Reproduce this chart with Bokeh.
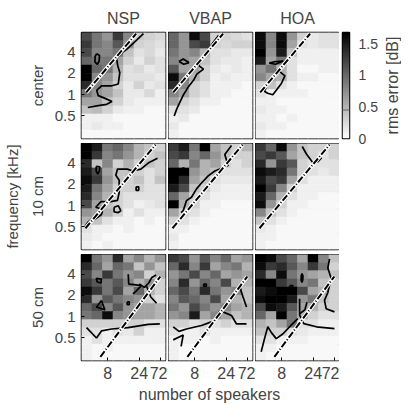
import numpy as np
from bokeh.plotting import figure
from bokeh.layouts import gridplot, column, row
from bokeh.models import Range1d, FixedTicker, LinearAxis, LinearColorMapper, Span, ColumnDataSource
from bokeh.palettes import Greys256
from bokeh.embed import file_html
from bokeh.resources import INLINE

FONT = "Liberation Sans"

# ---------------- data ----------------
methods = ["NSP", "VBAP", "HOA"]
positions = ["center", "10 cm", "50 cm"]
x_label = "number of speakers"
y_label = "frequency [kHz]"
cbar_label = "rms error [dB]"
# frequency band edges in kHz (bottom -> top)
freq_edges = [0.24, 0.313, 0.408, 0.533, 0.695, 0.907, 1.183, 1.543,
              2.013, 2.626, 3.426, 4.469, 5.829, 7.6]
n_cols = 8
x_ticks = [2.5, 5.5, 7.5]
x_tick_labels = ["8", "24", "72"]
y_ticks = [0.5, 1, 2, 4]
y_tick_labels = ["0.5", "1", "2", "4"]
cbar_ticks = [0, 0.5, 1, 1.5]
cbar_tick_labels = ["0", "0.5", "1", "1.5"]
err_max = 1.68
contour_level = 0.45

# rms error [dB]; rows from highest band (top) to lowest band (bottom)
err_center_nsp = [
    [1.2, 0.9, 0.7, 1.3, 0.8, 0.35, 0.3, 0.25],
    [1.3, 0.9, 0.8, 1.1, 0.7, 0.3, 0.25, 0.2],
    [1.2, 0.8, 0.8, 0.9, 0.4, 0.2, 0.25, 0.15],
    [1.0, 0.9, 0.9, 0.6, 0.3, 0.15, 0.3, 0.2],
    [1.7, 1.0, 0.9, 0.5, 0.2, 0.25, 0.15, 0.2],
    [1.7, 0.8, 0.7, 0.4, 0.2, 0.2, 0.2, 0.15],
    [1.4, 0.8, 0.6, 0.3, 0.15, 0.3, 0.15, 0.2],
    [0.9, 0.7, 0.6, 0.4, 0.15, 0.15, 0.25, 0.1],
    [0.6, 0.6, 0.4, 0.3, 0.15, 0.1, 0.1, 0.1],
    [0.4, 0.45, 0.3, 0.15, 0.1, 0.1, 0.05, 0.05],
    [0.1, 0.1, 0.1, 0.05, 0.05, 0.05, 0.05, 0.05],
    [0.1, 0.15, 0.1, 0.1, 0.05, 0.05, 0.05, 0.05],
    [0.05, 0.05, 0.05, 0.05, 0.05, 0.05, 0.05, 0.05],
]
err_center_vbap = [
    [1.0, 0.7, 1.6, 1.2, 0.3, 0.3, 0.25, 0.2],
    [1.0, 0.7, 1.2, 1.3, 0.3, 0.25, 0.3, 0.3],
    [0.9, 0.7, 0.8, 0.5, 0.2, 0.2, 0.15, 0.15],
    [0.8, 0.7, 0.6, 0.4, 0.2, 0.15, 0.15, 0.1],
    [1.1, 0.6, 0.6, 0.3, 0.15, 0.1, 0.15, 0.1],
    [1.6, 0.9, 0.5, 0.3, 0.1, 0.15, 0.1, 0.1],
    [1.4, 0.8, 0.3, 0.2, 0.1, 0.1, 0.1, 0.05],
    [0.8, 0.6, 0.3, 0.2, 0.1, 0.1, 0.05, 0.05],
    [0.6, 0.3, 0.2, 0.1, 0.1, 0.05, 0.05, 0.05],
    [0.2, 0.2, 0.15, 0.05, 0.05, 0.05, 0.05, 0.05],
    [0.1, 0.15, 0.05, 0.05, 0.05, 0.05, 0.05, 0.05],
    [0.15, 0.05, 0.05, 0.05, 0.05, 0.05, 0.05, 0.05],
    [0.1, 0.05, 0.05, 0.05, 0.05, 0.05, 0.05, 0.05],
]
err_center_hoa = [
    [1.6, 0.8, 1.6, 0.7, 0.3, 0.15, 0.2, 0.2],
    [1.6, 0.8, 1.6, 0.6, 0.2, 0.15, 0.2, 0.2],
    [1.7, 0.7, 1.5, 0.4, 0.1, 0.1, 0.1, 0.1],
    [1.5, 0.6, 0.9, 0.2, 0.1, 0.1, 0.1, 0.1],
    [0.7, 0.9, 0.5, 0.2, 0.05, 0.05, 0.1, 0.1],
    [0.8, 0.6, 0.5, 0.2, 0.1, 0.1, 0.05, 0.05],
    [0.3, 0.4, 0.2, 0.1, 0.05, 0.05, 0.05, 0.05],
    [0.2, 0.1, 0.1, 0.1, 0.1, 0.05, 0.05, 0.05],
    [0.1, 0.1, 0.05, 0.05, 0.05, 0.05, 0.05, 0.05],
    [0.15, 0.1, 0.1, 0.05, 0.05, 0.05, 0.05, 0.05],
    [0.1, 0.1, 0.05, 0.1, 0.05, 0.05, 0.05, 0.05],
    [0.15, 0.1, 0.1, 0.05, 0.05, 0.05, 0.05, 0.05],
    [0.1, 0.05, 0.05, 0.05, 0.05, 0.05, 0.05, 0.05],
]
err_10cm_nsp = [
    [1.7, 1.5, 0.9, 1.0, 0.8, 0.5, 0.4, 0.3],
    [1.7, 1.3, 0.8, 0.9, 0.7, 0.5, 0.3, 0.4],
    [1.4, 0.4, 0.8, 0.3, 0.5, 0.3, 0.4, 0.3],
    [1.5, 1.2, 0.6, 0.4, 0.4, 0.3, 0.2, 0.3],
    [1.6, 1.3, 0.7, 0.4, 0.3, 0.4, 0.2, 0.4],
    [1.5, 0.9, 0.6, 0.3, 0.3, 0.3, 0.2, 0.2],
    [1.4, 0.8, 0.5, 0.3, 0.2, 0.2, 0.2, 0.2],
    [1.2, 0.6, 0.4, 0.3, 0.2, 0.1, 0.15, 0.2],
    [0.7, 0.6, 0.5, 0.3, 0.1, 0.2, 0.1, 0.1],
    [0.5, 0.4, 0.2, 0.1, 0.1, 0.05, 0.1, 0.05],
    [0.2, 0.1, 0.1, 0.05, 0.1, 0.05, 0.05, 0.05],
    [0.15, 0.1, 0.05, 0.05, 0.05, 0.05, 0.05, 0.05],
    [0.1, 0.05, 0.1, 0.05, 0.05, 0.05, 0.05, 0.05],
]
err_10cm_vbap = [
    [1.3, 1.5, 0.9, 1.7, 0.6, 0.4, 0.3, 0.5],
    [1.2, 1.3, 0.8, 1.0, 0.7, 0.4, 0.3, 0.3],
    [1.0, 0.5, 0.9, 0.5, 0.6, 0.3, 0.2, 0.3],
    [1.7, 1.7, 0.7, 0.5, 0.4, 0.2, 0.2, 0.2],
    [1.7, 1.4, 0.6, 0.4, 0.2, 0.15, 0.15, 0.15],
    [1.5, 1.2, 0.4, 0.3, 0.15, 0.1, 0.1, 0.1],
    [1.0, 0.6, 0.3, 0.2, 0.1, 0.1, 0.1, 0.1],
    [1.7, 0.5, 0.3, 0.1, 0.1, 0.05, 0.05, 0.05],
    [0.6, 0.3, 0.2, 0.1, 0.05, 0.05, 0.05, 0.05],
    [0.3, 0.2, 0.1, 0.05, 0.05, 0.05, 0.05, 0.05],
    [0.1, 0.1, 0.05, 0.05, 0.05, 0.05, 0.05, 0.05],
    [0.15, 0.05, 0.05, 0.05, 0.05, 0.05, 0.05, 0.05],
    [0.1, 0.05, 0.05, 0.05, 0.05, 0.05, 0.05, 0.05],
]
err_10cm_hoa = [
    [1.3, 1.0, 1.6, 0.7, 0.4, 0.3, 0.3, 0.3],
    [1.2, 1.3, 1.1, 0.6, 0.4, 0.3, 0.2, 0.3],
    [1.4, 0.7, 1.3, 1.1, 0.3, 0.2, 0.2, 0.2],
    [1.6, 1.5, 1.4, 0.9, 0.3, 0.2, 0.15, 0.2],
    [1.5, 1.2, 1.3, 0.6, 0.2, 0.1, 0.1, 0.1],
    [1.7, 1.3, 0.8, 0.3, 0.1, 0.1, 0.1, 0.1],
    [1.5, 1.0, 0.5, 0.2, 0.1, 0.1, 0.05, 0.05],
    [1.6, 0.7, 0.3, 0.1, 0.1, 0.05, 0.05, 0.05],
    [0.8, 0.4, 0.2, 0.1, 0.05, 0.05, 0.05, 0.05],
    [0.4, 0.2, 0.1, 0.05, 0.05, 0.05, 0.05, 0.05],
    [0.15, 0.1, 0.05, 0.05, 0.05, 0.05, 0.05, 0.05],
    [0.1, 0.1, 0.05, 0.05, 0.05, 0.05, 0.05, 0.05],
    [0.1, 0.05, 0.05, 0.05, 0.05, 0.05, 0.05, 0.05],
]
err_50cm_nsp = [
    [1.7, 0.9, 0.7, 1.4, 0.6, 0.8, 0.5, 0.7],
    [1.4, 1.0, 0.6, 1.0, 0.9, 0.4, 0.7, 0.4],
    [1.2, 0.8, 1.3, 0.9, 0.7, 0.8, 0.3, 0.5],
    [1.3, 1.1, 0.9, 1.1, 0.8, 0.5, 0.7, 0.3],
    [1.6, 1.3, 0.9, 1.2, 0.6, 1.0, 0.5, 0.3],
    [1.4, 0.7, 1.1, 0.9, 0.8, 0.7, 0.3, 0.2],
    [1.0, 1.2, 0.8, 1.1, 0.7, 0.6, 0.6, 0.5],
    [0.9, 1.0, 1.6, 0.8, 0.7, 0.6, 0.6, 0.5],
    [0.3, 0.3, 0.3, 0.3, 0.3, 0.3, 0.2, 0.2],
    [0.2, 0.2, 0.1, 0.2, 0.15, 0.3, 0.1, 0.1],
    [0.1, 0.2, 0.1, 0.1, 0.1, 0.1, 0.1, 0.1],
    [0.1, 0.05, 0.1, 0.05, 0.05, 0.05, 0.05, 0.05],
    [0.1, 0.05, 0.05, 0.05, 0.05, 0.05, 0.05, 0.05],
]
err_50cm_vbap = [
    [1.3, 1.2, 0.7, 1.1, 0.8, 1.0, 0.6, 0.7],
    [1.0, 1.4, 0.8, 1.3, 0.6, 0.8, 0.9, 0.5],
    [0.7, 0.9, 1.2, 0.8, 1.0, 0.6, 0.7, 0.6],
    [0.8, 1.4, 0.7, 1.0, 0.8, 1.2, 0.5, 0.5],
    [1.0, 1.2, 0.9, 1.4, 0.9, 0.7, 0.8, 0.4],
    [0.8, 1.1, 1.0, 0.8, 1.2, 0.6, 0.5, 0.4],
    [0.9, 0.7, 1.2, 0.9, 0.7, 0.8, 0.6, 0.5],
    [0.7, 0.8, 1.5, 0.6, 0.8, 0.6, 0.4, 0.5],
    [0.3, 0.3, 0.2, 0.3, 0.2, 0.3, 0.2, 0.2],
    [0.2, 0.1, 0.1, 0.2, 0.1, 0.1, 0.1, 0.1],
    [0.1, 0.1, 0.1, 0.05, 0.1, 0.05, 0.05, 0.05],
    [0.1, 0.05, 0.05, 0.05, 0.05, 0.05, 0.05, 0.05],
    [0.1, 0.05, 0.05, 0.05, 0.05, 0.05, 0.05, 0.05],
]
err_50cm_hoa = [
    [1.7, 1.6, 1.2, 1.0, 0.6, 1.7, 0.8, 0.4],
    [1.6, 1.3, 1.4, 1.1, 0.8, 1.3, 0.9, 0.3],
    [1.4, 0.8, 1.6, 0.9, 0.7, 0.6, 0.5, 0.4],
    [1.7, 1.7, 1.3, 1.1, 0.8, 0.9, 0.4, 0.3],
    [1.5, 1.6, 1.7, 1.7, 1.2, 0.6, 0.5, 0.3],
    [1.6, 1.7, 1.7, 1.5, 0.7, 0.9, 0.4, 0.3],
    [1.2, 1.6, 1.5, 1.1, 0.6, 0.5, 0.3, 0.3],
    [1.0, 0.6, 1.7, 0.9, 0.5, 0.3, 0.2, 0.2],
    [0.5, 0.4, 0.6, 0.9, 0.2, 0.2, 0.1, 0.1],
    [0.4, 0.3, 0.3, 0.2, 0.15, 0.1, 0.1, 0.1],
    [0.2, 0.2, 0.1, 0.1, 0.1, 0.05, 0.05, 0.05],
    [0.1, 0.1, 0.05, 0.05, 0.05, 0.05, 0.05, 0.05],
    [0.1, 0.05, 0.05, 0.05, 0.05, 0.05, 0.05, 0.05],
]

# aliasing-frequency line per source position: (x in speaker columns, f in kHz)
alias_center_x = [0.45, 5.2]
alias_center_f = [1.08, 7.3]
alias_10cm_x = [0.38, 7.05]
alias_10cm_f = [0.48, 7.3]
alias_50cm_x = [1.8, 7.5]
alias_50cm_f = [0.27, 3.7]

# contour lines (level = contour_level) per panel: lists of (xs, fs)
cont_center_nsp = [
    ([5.9, 4.9, 4.3, 3.8, 3.35, 3.45, 3.65, 3.5, 2.8, 1.9, 1.45, 1.6, 2.3, 2.9, 2.4, 1.6, 0.6],
     [7.3, 5.3, 4.4, 3.9, 3.2, 2.6, 2.05, 1.42, 1.33, 1.33, 1.15, 0.97, 0.88, 0.8, 0.73, 0.7, 0.66]),
    ([1.45, 1.72, 1.68, 1.52, 1.28, 1.3, 1.45], [3.8, 3.6, 3.0, 2.7, 2.9, 3.5, 3.8]),
]
cont_center_vbap = [
    ([0.54, 0.79, 1.11, 1.43, 1.9, 2.38, 2.7, 3.33, 2.86, 3.17, 3.97, 4.76],
     [0.5, 0.63, 0.8, 1.0, 1.3, 1.6, 1.96, 2.3, 2.6, 3.2, 4.8, 6.9]),
    ([1.0, 1.4, 1.95, 1.45, 1.0], [2.95, 3.2, 2.85, 2.7, 2.95]),
]
cont_center_hoa = [
    ([1.3, 1.9, 2.65, 1.9, 1.3], [2.8, 2.95, 3.0, 2.7, 2.8]),
    ([2.1, 2.8, 2.45, 1.65, 1.15, 0.85, 1.35, 2.1], [2.25, 1.85, 1.43, 1.0, 1.05, 1.12, 1.6, 2.25]),
]
cont_10cm_nsp = [
    ([7.24, 6.44, 5.65, 4.86, 4.38, 3.43, 3.27, 3.59, 3.59, 3.43, 2.79, 1.84, 1.36, 1.9],
     [4.7, 4.1, 3.3, 3.1, 3.3, 3.3, 2.7, 2.3, 1.55, 1.19, 1.14, 1.14, 0.95, 0.9]),
    ([1.4, 1.75, 1.7, 1.55, 1.4, 1.4], [3.6, 3.55, 3.1, 2.8, 3.1, 3.6]),
    ([5.2, 5.45, 5.45, 5.2, 5.2], [1.85, 1.85, 1.65, 1.65, 1.85]),
    ([3.1, 3.5, 3.75, 3.5, 3.1, 3.1], [0.95, 1.0, 0.85, 0.8, 0.82, 0.95]),
    ([0.3, 1.0, 1.9, 2.0, 1.3, 0.6, 0.3], [0.5, 0.6, 0.75, 0.85, 0.72, 0.58, 0.5]),
]
cont_10cm_vbap = [
    ([6.0, 5.36, 5.68, 4.41, 3.78, 3.14, 2.67, 2.19, 1.71, 1.4, 1.2],
     [7.1, 5.3, 3.7, 3.1, 2.65, 2.1, 1.73, 1.32, 1.18, 0.85, 0.8]),
    ([1.3, 1.5, 1.5, 1.3, 1.3], [3.4, 3.4, 3.2, 3.2, 3.4]),
]
cont_10cm_hoa = [
    ([4.45, 4.85, 5.45, 5.95, 6.3], [6.9, 5.4, 4.1, 4.2, 4.8]),
]
cont_50cm_nsp = [
    ([0.48, 1.43, 1.9, 2.86, 4.44, 6.35, 7.46], [0.7, 0.5, 0.63, 0.67, 0.7, 0.78, 0.79]),
    ([1.4, 1.9, 1.85, 1.5, 1.4], [3.5, 3.4, 3.0, 3.1, 3.5]),
    ([1.9, 1.43, 2.22, 1.9], [1.7, 1.37, 1.25, 1.7]),
    ([4.35, 4.55, 4.55, 4.35, 4.35], [1.62, 1.62, 1.48, 1.48, 1.62]),
    ([4.45, 4.5, 5.0, 5.7, 5.2, 4.9], [4.0, 2.9, 2.85, 2.75, 2.3, 2.1]),
    ([5.5, 6.0, 6.4, 6.7, 7.1], [2.9, 2.6, 3.0, 3.6, 3.9]),
    ([6.2, 6.6, 7.15], [2.7, 1.9, 1.55]),
]
cont_50cm_vbap = [
    ([0.45, 1.0, 1.71, 3.14, 4.41, 4.89, 6.0, 6.48, 7.43], [0.72, 0.62, 0.67, 0.75, 0.88, 1.22, 1.04, 0.79, 0.79]),
    ([0.45, 1.4, 1.2], [0.47, 0.55, 0.38]),
    ([6.8, 7.1, 7.43], [2.62, 1.9, 1.37]),
    ([3.35, 3.6, 3.6, 3.35, 3.35], [2.9, 2.9, 2.7, 2.7, 2.9]),
]
cont_50cm_hoa = [
    ([7.05, 6.89, 7.2, 6.89, 6.57, 6.73, 7.52], [6.6, 4.9, 3.5, 2.2, 1.7, 1.3, 1.17]),
    ([4.42, 4.52, 4.5, 4.42, 4.34, 4.36, 4.42], [4.1, 3.8, 3.3, 3.05, 3.3, 3.8, 4.1]),
    ([3.25, 3.55, 3.55, 3.25, 3.25], [2.75, 2.75, 2.55, 2.55, 2.75]),
    ([4.2, 4.2, 4.6, 5.8, 7.52], [1.8, 1.05, 0.8, 0.72, 0.68]),
    ([4.2, 4.7, 4.9], [1.1, 1.25, 1.6]),
    ([0.54, 0.86, 1.17, 1.5, 1.97, 2.6, 3.4, 4.03], [0.32, 0.49, 0.72, 0.6, 0.49, 0.57, 0.76, 0.94]),
]

errors = [[err_center_nsp, err_center_vbap, err_center_hoa],
          [err_10cm_nsp, err_10cm_vbap, err_10cm_hoa],
          [err_50cm_nsp, err_50cm_vbap, err_50cm_hoa]]
contours = [[cont_center_nsp, cont_center_vbap, cont_center_hoa],
            [cont_10cm_nsp, cont_10cm_vbap, cont_10cm_hoa],
            [cont_50cm_nsp, cont_50cm_vbap, cont_50cm_hoa]]
alias_lines = [(alias_center_x, alias_center_f), (alias_10cm_x, alias_10cm_f), (alias_50cm_x, alias_50cm_f)]

# ---------------- drawing ----------------
palette = list(reversed(Greys256))
mapper = LinearColorMapper(palette=palette, low=0, high=err_max)
FW, FH = 84, 106


def style_title(p):
    p.title.text_font = FONT
    p.title.text_font_size = "16px"
    p.title.text_font_style = "normal"
    p.title.align = "center"
    p.title.standoff = 12


def make_panel(ri, ci):
    p = figure(frame_width=FW, frame_height=FH,
               x_range=Range1d(0, n_cols), y_range=Range1d(freq_edges[0], freq_edges[-1]),
               y_axis_type="log", toolbar_location=None, output_backend="svg",
               min_border_left=80 if ci == 0 else 0,
               min_border_right=3 if ci < 2 else 0,
               min_border_top=32 if ri == 0 else 0,
               min_border_bottom=5 if ri < 2 else 22,
               title=methods[ci] if ri == 0 else None)
    if ri == 0:
        style_title(p)
    p.grid.visible = False
    p.outline_line_color = "black"
    p.outline_line_width = 1.5
    p.background_fill_color = "white"
    p.border_fill_color = "white"

    grid = errors[ri][ci]
    nrows = len(grid)
    lefts, rights, bottoms, tops, vals = [], [], [], [], []
    for r in range(nrows):
        band = nrows - 1 - r
        for c in range(n_cols):
            lefts.append(c)
            rights.append(c + 1)
            bottoms.append(freq_edges[band])
            tops.append(freq_edges[band + 1])
            vals.append(grid[r][c])
    src = ColumnDataSource(dict(left=lefts, right=rights, bottom=bottoms, top=tops, val=vals))
    cmap = {"field": "val", "transform": mapper}
    p.quad(left="left", right="right", bottom="bottom", top="top", source=src,
           fill_color=cmap, line_color=cmap, line_width=0.6)

    for xs, fs in contours[ri][ci]:
        p.line(xs, fs, line_color="black", line_width=1.7)

    ax, af = alias_lines[ri]
    p.line(ax, af, line_color="white", line_width=4)
    p.line(ax, af, line_color="black", line_width=2, line_dash="7 2 1 2")

    # x axis
    if ri < 2:
        p.xaxis.visible = False
    else:
        p.xaxis.ticker = FixedTicker(ticks=x_ticks)
        p.xaxis.major_label_overrides = {t: l for t, l in zip(x_ticks, x_tick_labels)}
        p.xaxis.major_tick_in = 3
        p.xaxis.major_tick_out = 0
        p.xaxis.minor_tick_line_color = None
        p.xaxis.axis_line_color = None
        p.xaxis.major_label_standoff = 6
        p.xaxis.major_label_text_font = FONT
        p.xaxis.major_label_text_font_size = "16px"
    # y axis
    if ci > 0:
        p.yaxis.visible = False
    else:
        p.yaxis.ticker = FixedTicker(ticks=y_ticks)
        p.yaxis.major_label_overrides = {t: l for t, l in zip(y_ticks, y_tick_labels)}
        p.yaxis.major_tick_in = 3
        p.yaxis.major_tick_out = 0
        p.yaxis.minor_tick_line_color = None
        p.yaxis.axis_line_color = None
        p.yaxis.major_label_standoff = 6
        p.yaxis.major_label_text_font = FONT
        p.yaxis.major_label_text_font_size = "15px"
        p.yaxis.axis_label = positions[ri]
        p.yaxis.axis_label_text_font = FONT
        p.yaxis.axis_label_text_font_size = "15px"
        p.yaxis.axis_label_text_font_style = "normal"
        p.yaxis.axis_label_standoff = 6
        if ri == 1:
            extra = LinearAxis(ticker=FixedTicker(ticks=[]), axis_label=y_label,
                               axis_line_color=None, major_tick_out=0, major_tick_in=0,
                               minor_tick_out=0, minor_tick_in=0, major_label_standoff=0,
                               axis_label_text_font=FONT, axis_label_text_font_size="15px",
                               axis_label_text_font_style="normal", axis_label_standoff=5)
            p.add_layout(extra, "left")
    return p


panels = [[make_panel(ri, ci) for ci in range(3)] for ri in range(3)]

grid = gridplot([panels[0], panels[1], panels[2]], toolbar_location=None)

# colorbar as its own small plot
cb = figure(frame_width=7, frame_height=FH, x_range=Range1d(0, 1), y_range=Range1d(0, err_max),
            y_axis_location="right", toolbar_location=None, output_backend="svg",
            min_border_left=3, min_border_right=26, min_border_top=32, min_border_bottom=14,
            title=" ")
style_title(cb)
cb.grid.visible = False
cb.xaxis.visible = False
cb.outline_line_color = "black"
cb.outline_line_width = 1.5
cb.image(image=[np.linspace(0, err_max, 256).reshape(-1, 1)], x=0, y=0, dw=1, dh=err_max,
         color_mapper=mapper)
cb.add_layout(Span(location=contour_level, dimension="width", line_color="#808080", line_width=1.5))
cb.yaxis.ticker = FixedTicker(ticks=cbar_ticks)
cb.yaxis.major_label_overrides = {t: l for t, l in zip(cbar_ticks, cbar_tick_labels)}
cb.yaxis.major_tick_in = 0
cb.yaxis.major_tick_out = 0
cb.yaxis.minor_tick_line_color = None
cb.yaxis.axis_line_color = None
cb.yaxis.major_label_standoff = 9
cb.yaxis.major_label_text_font = FONT
cb.yaxis.major_label_text_font_size = "14px"

# colorbar title: left-axis label (reads bottom-to-top) of a thin companion plot
cbl = figure(frame_width=1, frame_height=FH, x_range=Range1d(0, 1), y_range=Range1d(0, err_max),
             toolbar_location=None, output_backend="svg",
             min_border_left=0, min_border_right=0, min_border_top=32, min_border_bottom=14,
             title=" ")
style_title(cbl)
cbl.grid.visible = False
cbl.xaxis.visible = False
cbl.outline_line_color = None
cbl.yaxis.ticker = FixedTicker(ticks=[])
cbl.yaxis.axis_line_color = None
cbl.yaxis.major_tick_out = 0
cbl.yaxis.minor_tick_out = 0
cbl.yaxis.major_label_standoff = 0
cbl.yaxis.axis_label = cbar_label
cbl.yaxis.axis_label_text_font = FONT
cbl.yaxis.axis_label_text_font_size = "16px"
cbl.yaxis.axis_label_text_font_style = "normal"
cbl.yaxis.axis_label_standoff = 0

# x-axis title spanning the three panel columns
lab = figure(frame_width=3 * FW + 6, frame_height=1, x_range=Range1d(0, 1), y_range=Range1d(0, 1),
             toolbar_location=None, output_backend="svg",
             min_border_left=80, min_border_right=0, min_border_top=0, min_border_bottom=0)
lab.outline_line_color = None
lab.grid.visible = False
lab.yaxis.visible = False
lab.xaxis.ticker = FixedTicker(ticks=[])
lab.xaxis.axis_line_color = None
lab.xaxis.major_tick_out = 0
lab.xaxis.minor_tick_out = 0
lab.xaxis.major_label_standoff = 0
lab.xaxis.axis_label = x_label
lab.xaxis.axis_label_text_font = FONT
lab.xaxis.axis_label_text_font_size = "16px"
lab.xaxis.axis_label_text_font_style = "normal"
lab.xaxis.axis_label_standoff = 2

layout = column(row(grid, cb, cbl), lab)

open("out.html", "w").write(file_html(layout, INLINE))
